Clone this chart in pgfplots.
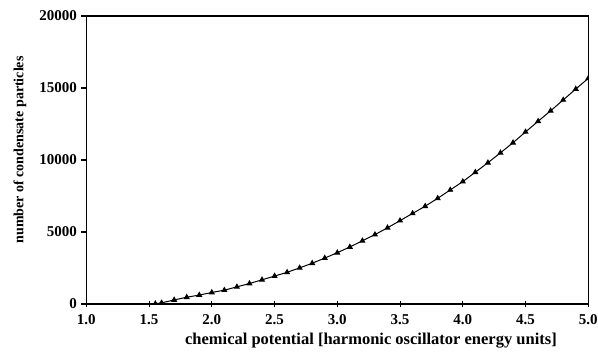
\documentclass[border=0pt]{standalone}
\usepackage{fontspec}
\setmainfont{Liberation Serif}
\usepackage{pgfplots}
\pgfplotsset{compat=1.18}
\begin{document}
\begin{tikzpicture}
\path[use as bounding box] (0,0) rectangle (598bp,354bp);
\begin{axis}[
  at={(86.3bp,50bp)}, anchor=south west,
  scale only axis, width=502bp, height=288bp,
  xmin=1, xmax=5, ymin=0, ymax=20000,
  xtick={1,1.5,...,5}, ytick={0,5000,10000,15000,20000},
  xticklabels={1.0,1.5,2.0,2.5,3.0,3.5,4.0,4.5,5.0},
  scaled y ticks=false,
  /pgf/number format/1000 sep={},
  /pgf/number format/assume math mode=true,
  xtick pos=bottom, ytick pos=left,
  xtick align=center, ytick align=outside,
  major tick length=5bp,
  every tick/.style={black, line width=1.1pt},
  axis line style={line width=1.1pt},
  tick label style={font=\fontsize{15bp}{17bp}\selectfont\bfseries},
  xticklabel style={yshift=-5bp},
  yticklabel style={xshift=-1bp},
  xlabel={chemical potential [harmonic oscillator energy units]},
  ylabel={number of condensate particles},
  xlabel style={font=\fontsize{16.5bp}{18bp}\selectfont\bfseries, at={(axis description cs:0.567,0)}, anchor=center, yshift=-37bp},
  ylabel style={font=\fontsize{14bp}{16bp}\selectfont\bfseries, at={(axis description cs:-0.132,0.535)}, anchor=center},
  clip marker paths=true,
]
\addplot[black, line width=1pt, mark=triangle*, mark size=2.6bp, mark options={solid, black}] coordinates {
(1.55,20) (1.6,80) (1.7,280) (1.8,470) (1.9,620) (2.0,800) (2.1,960) (2.2,1190)
(2.3,1420) (2.4,1680) (2.5,1940) (2.6,2200) (2.7,2510) (2.8,2830) (2.9,3190)
(3.0,3560) (3.1,3960) (3.2,4390) (3.3,4820) (3.4,5290) (3.5,5790) (3.6,6290)
(3.7,6790) (3.8,7340) (3.9,7920) (4.0,8500) (4.1,9150) (4.2,9810) (4.3,10500)
(4.4,11200) (4.5,11950) (4.6,12690) (4.7,13420) (4.8,14170) (4.9,14930) (5.0,15670)
};
\end{axis}
\end{tikzpicture}
\end{document}
